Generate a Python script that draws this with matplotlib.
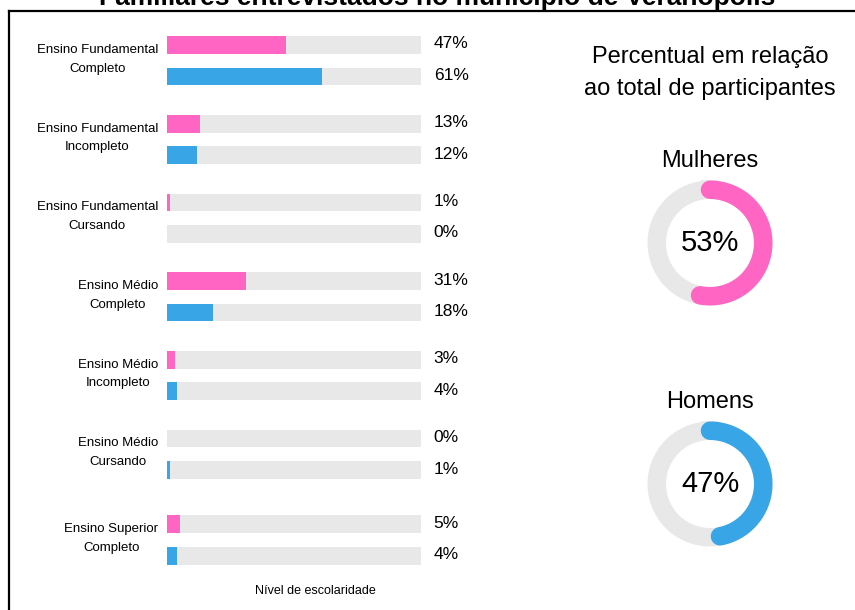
import matplotlib.pyplot as plt
from matplotlib.lines import Line2D
import numpy as np

plt.rcParams['font.family'] = ['Liberation Sans', 'DejaVu Sans']

# data
categories = [
    "Ensino Fundamental\nCompleto",
    "Ensino Fundamental\nIncompleto",
    "Ensino Fundamental\nCursando",
    "Ensino Médio\nCompleto",
    "Ensino Médio\nIncompleto",
    "Ensino Médio\nCursando",
    "Ensino Superior\nCompleto",
]
mulheres = [47, 13, 1, 31, 3, 0, 5]
homens = [61, 12, 0, 18, 4, 1, 4]
total_labels = ["Mulheres", "Homens"]
total_values = [53, 47]

title = "Familiares entrevistados no município de Veranópolis"
pink = "#FF66C4"
blue = "#38A6E6"
track = "#E8E8E8"

W, H = 855, 610
fig = plt.figure(figsize=(W / 100, H / 100), dpi=100)

# frame lines and title (cut off at the top, as in the original)
fig.add_artist(Line2D([9 / W, 9 / W], [0, 1 - 11 / H], color="black", lw=1.6))
fig.add_artist(Line2D([9 / W, 1], [1 - 11 / H, 1 - 11 / H], color="black", lw=1.6))
fig.text(437 / W, 1 - 5 / H, title, ha="center", va="baseline",
         fontsize=19, fontweight="bold")

# bar panel: y axis in pixels from top
ax = fig.add_axes([167 / W, 0, 254 / W, 1])
ax.set_xlim(0, 100)
ax.set_ylim(H, 0)
ax.axis("off")

first, step, offset, bh = 45, 78.7, 31.5, 17.7
n = len(categories)
for i, (cat, m, h) in enumerate(zip(categories, mulheres, homens)):
    yp = first + i * step + (7 if i == n - 1 else 0)
    yb = yp + offset
    for y, v, c in [(yp, m, pink), (yb, h, blue)]:
        ax.barh(y, 100, height=bh, color=track)
        ax.barh(y, v, height=bh, color=c)
        ax.text(105, y - 1, f"{v}%", ha="left", va="center", fontsize=12.5)
    ax.text(-3.5, (yp + yb) / 2 - 1.5, cat, ha="right", va="center",
            multialignment="center", fontsize=9.5, linespacing=1.75)

ax.text(58.5, 591, "Nível de escolaridade", ha="center", va="center", fontsize=9)

# right panel
fig.text(710 / W, 1 - 73 / H, "Percentual em relação\nao total de participantes",
         ha="center", va="center", fontsize=17, linespacing=1.6)

centers = [243, 484]
size = 150
for lab, val, cy, col in zip(total_labels, total_values, centers, [pink, blue]):
    dax = fig.add_axes([(710 - size / 2) / W, 1 - (cy + size / 2) / H, size / W, size / H])
    dax.set_xlim(-size / 2, size / 2)
    dax.set_ylim(-size / 2, size / 2)
    dax.axis("off")
    r = 53.25
    lw = 18.5 * 72 / 100
    t = np.linspace(0, 2 * np.pi, 300)
    dax.plot(r * np.sin(t), r * np.cos(t), color=track, lw=lw)
    t = np.linspace(0, 2 * np.pi * val / 100, 200)
    dax.plot(r * np.sin(t), r * np.cos(t), color=col, lw=lw, solid_capstyle="round")
    dax.text(0, 0, f"{val}%", ha="center", va="center", fontsize=21)
    fig.text(710 / W, 1 - (cy - 82) / H, lab, ha="center", va="center", fontsize=17)

fig.savefig("out.png", dpi=100)
